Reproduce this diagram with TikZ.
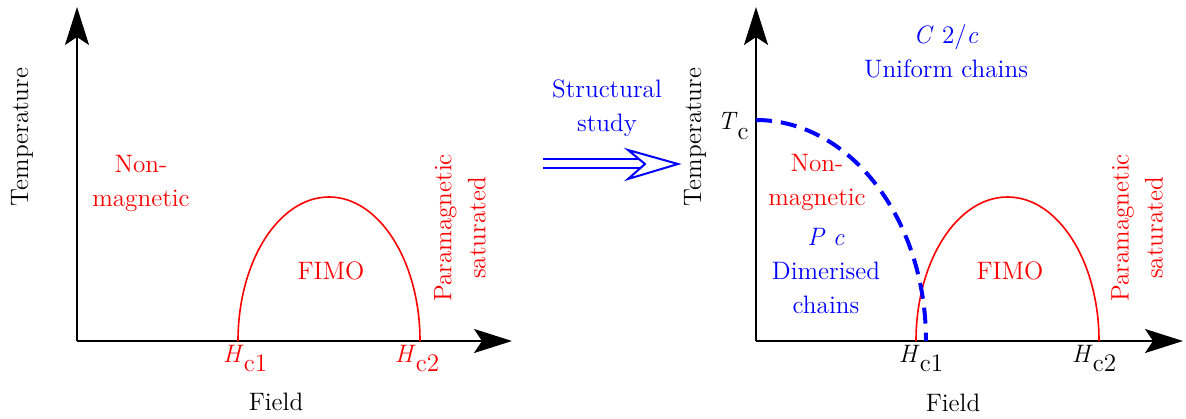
\documentclass[tikz,border=0pt]{standalone}
\usetikzlibrary{positioning,arrows.meta,calc}
\newcommand{\critf}[2]{\textit{#1}\raisebox{-0.36em}{#2}}

\begin{document}
\begin{tikzpicture}[
        x=0.5pt, y=0.5pt,
        >={Stealth[length=19pt, width=12pt, inset=4pt]},
        font=\fontsize{12.6pt}{17pt}\selectfont,
        axis/.style={->, line width=1pt, black},
        lbl/.style={inner sep=1pt, align=center},
        redlbl/.style={lbl, text=red},
        bluelbl/.style={lbl, text=blue},
        dome/.style={red, line width=0.8pt},
        crit/.style={lbl, anchor=north}
    ]
        \useasboundingbox (0,0) rectangle (1186,418);

        % left diagram
        \coordinate (o1) at (77,77);
        \coordinate (y1) at (77,411);
        \coordinate (x1) at (512,77);
        \coordinate (hA) at (238,77);
        \coordinate (hB) at (420,77);
        \draw[axis] (o1) -- (y1);
        \draw[axis] (o1) -- (x1);
        \draw[dome] (hB) arc[start angle=0, end angle=180, x radius=91, y radius=144];
        \node[lbl, rotate=90] (temp1) at (22,281) {Temperature};
        \node[lbl] (field1) at (276,16) {Field};
        \node[redlbl] (nonmag1) at (141,235) {Non-\\magnetic};
        \node[redlbl] (fimo1) at (331,147) {FIMO};
        \node[redlbl, rotate=90] (para1) at (460,190) {Paramagnetic\\saturated};
        \node[crit, text=red] (hc1a) at ($(hA)+(7,-2)$) {\critf{H}{c1}};
        \node[crit, text=red] (hc2a) at ($(hB)+(-3,-2)$) {\critf{H}{c2}};

        % structural study arrow
        \node[bluelbl] (study) at (607,310) {Structural\\study};
        \coordinate (arr0) at (543,254);
        \coordinate (arr1) at (678,254);
        \draw[blue, line width=1pt, double distance=3.5pt, shorten >=18pt] (arr0) -- (arr1);
        \draw[blue, line width=1pt, fill=white] (arr1) -- ++(-50,14) -- ++(17,-14) -- ++(-17,-15) -- cycle;

        % right diagram
        \coordinate (o2) at (756,77);
        \coordinate (y2) at (756,411);
        \coordinate (x2) at (1183,77);
        \coordinate (hC) at (916,77);
        \coordinate (hD) at (1099,77);
        \coordinate (tc) at (756,298);
        \draw[axis] (o2) -- (y2);
        \draw[axis] (o2) -- (x2);
        \draw[dome] (hD) arc[start angle=0, end angle=180, x radius=91.5, y radius=144];
        \draw[blue, line width=2pt, dash pattern=on 8pt off 4.5pt] (tc) arc[start angle=90, end angle=0, x radius=170, y radius=221];
        \node[lbl, rotate=90] (temp2) at (695,281) {Temperature};
        \node[lbl] (field2) at (953,15) {Field};
        \node[lbl, anchor=base east] (tclbl) at (751,288) {\critf{T}{c}};
        \node[bluelbl] (uniform) at (946,367) {\textit{C}~2/\textit{c}\\Uniform chains};
        \node[redlbl] (nonmag2) at (817,236) {Non-\\magnetic};
        \node[bluelbl] (dimer) at (826,147) {\textit{P c}\\Dimerised\\chains};
        \node[redlbl] (fimo2) at (1010,147) {FIMO};
        \node[redlbl, rotate=90] (para2) at (1137,190) {Paramagnetic\\saturated};
        \node[crit] (hc1b) at ($(hC)+(5,-2)$) {\critf{H}{c1}};
        \node[crit] (hc2b) at ($(hD)+(-5,-2)$) {\critf{H}{c2}};
    \end{tikzpicture}
\end{document}
